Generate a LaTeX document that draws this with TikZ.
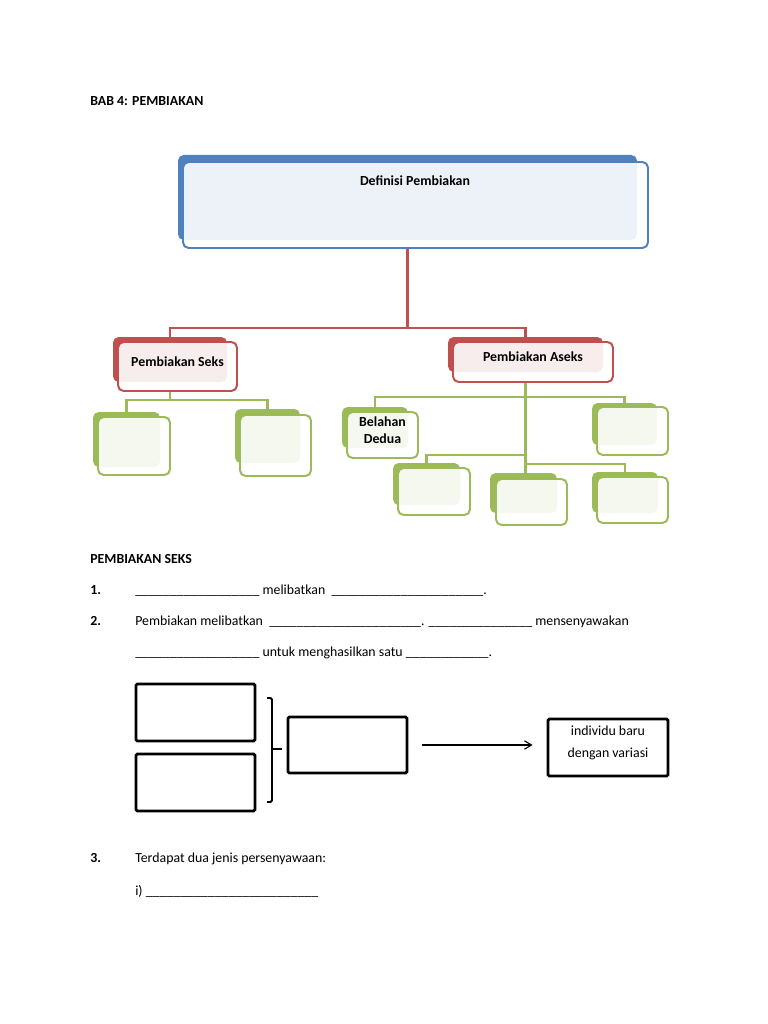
\documentclass[tikz,border=0pt]{standalone}
\usepackage{fontspec}
\setmainfont{Carlito}
\usepackage{tikz}
\usetikzlibrary{arrows.meta, positioning, fit, backgrounds, calc}

\definecolor{accblue}{HTML}{4F81BD}
\definecolor{accred}{HTML}{C0504D}
\definecolor{accgreen}{HTML}{9BBB59}

\newcommand{\ukuran}{\fontsize{9.85pt}{11.8pt}\selectfont}
\newcommand{\garis}[1]{\foreach \nn in {1,...,#1}{\_}}

\tikzset{
  backbox/.style={fill=#1, rounded corners=4pt, inner sep=0pt},
  frontbox/.style={draw=#1, line width=1.4pt, fill=white, fill opacity=0.9, text opacity=1,
                   rounded corners=4pt, inner sep=0pt, align=center, font=\ukuran\bfseries},
  redline/.style={draw=accred, line width=1.5pt},
  greenline/.style={draw=accgreen, line width=1.8pt},
  textline/.style={anchor=base west, inner sep=0pt},
  boldline/.style={textline, font=\ukuran\bfseries},
  plainbox/.style={draw, line width=2pt, rounded corners=1pt, inner sep=0pt, align=center},
  arrowline/.style={-{Straight Barb[length=5pt, width=6pt]}, line width=0.8pt}
}

\begin{document}
\begin{tikzpicture}[x=0.025cm, y=-0.025cm, font=\ukuran]

\useasboundingbox (0,0) rectangle (768,1024);

% Tajuk
\node [boldline] (tajuk) at (90,106) {BAB 4: PEMBIAKAN};

% Definisi
\node [backbox=accblue, fit={(178,155) (637,240)}] (defbg) {};
\node [frontbox=accblue, fit={(183,162) (648,248)}] (def) {};
\node [font=\ukuran\bfseries, inner sep=0pt, anchor=base] (deftitle) at (415,186) {Definisi Pembiakan};

% Pembiakan Seks / Aseks
\node [backbox=accred, fit={(113,337) (227,382)}] (seksbg) {};
\node [frontbox=accred, fit={(118,342) (237,391)}] (seks) {Pembiakan Seks};
\node [backbox=accred, fit={(448,337) (603,372)}] (aseksbg) {};
\node [frontbox=accred, fit={(453,342) (613,382)}] (aseks) {Pembiakan Aseks};

% Cabang seks
\node [backbox=accgreen, fit={(93,412) (160,467)}] (seks1bg) {};
\node [frontbox=accgreen, fit={(98,417) (170,475)}] (seks1) {};
\node [backbox=accgreen, fit={(235,409) (300,463)}] (seks2bg) {};
\node [frontbox=accgreen, fit={(240,415) (311,476)}] (seks2) {};

% Cabang aseks
\node [backbox=accgreen, fit={(342,407) (408,448)}] (belahanbg) {};
\node [frontbox=accgreen, fit={(347,412) (418,458)}] (belahan) {Belahan\\Dedua};
\node [backbox=accgreen, fit={(592,403) (657,445)}] (aseks2bg) {};
\node [frontbox=accgreen, fit={(597,407) (668,455)}] (aseks2) {};
\node [backbox=accgreen, fit={(393,463) (460,505)}] (aseks3bg) {};
\node [frontbox=accgreen, fit={(398,468) (470,515)}] (aseks3) {};
\node [backbox=accgreen, fit={(490,473) (557,513)}] (aseks4bg) {};
\node [frontbox=accgreen, fit={(496,479) (567,525)}] (aseks4) {};
\node [backbox=accgreen, fit={(592,472) (658,513)}] (aseks5bg) {};
\node [frontbox=accgreen, fit={(597,477) (668,523)}] (aseks5) {};

% Connectors
\coordinate (redbar) at (0,328);
\coordinate (seksbar) at (0,400);
\coordinate (barA) at (0,397);
\coordinate (barB) at (0,455);
\coordinate (barC) at (0,464);

\begin{scope}[on background layer]
\fill [white] (0,0) rectangle (768,1024);

\draw [redline] (defbg.south |- def.south) -- (defbg.south |- redbar) -| (seksbg.north);
\draw [redline] (defbg.south |- redbar) -| (aseksbg.north);

\draw [greenline] (seksbg.south |- seks.south) -- (seksbg.south |- seksbar) -| (seks1bg.north);
\draw [greenline] (seksbg.south |- seksbar) -| (seks2bg.north);

\draw [greenline] (aseksbg.south |- aseks.south) -- (aseksbg.south |- aseks4bg.north);
\draw [greenline] (aseksbg.south |- barA) -| (belahanbg.north);
\draw [greenline] (aseksbg.south |- barA) -| (aseks2bg.north);
\draw [greenline] (aseksbg.south |- barB) -| (aseks3bg.north);
\draw [greenline] (aseksbg.south |- barC) -| (aseks5bg.north);
\end{scope}

% Soalan
\node [boldline] (sekshead) at (90,563) {PEMBIAKAN SEKS};
\node [boldline] (no1) at (90,594) {1.};
\node [textline] (s1) at (135,594) {\garis{18} melibatkan\ \ \garis{22}.};
\node [boldline] (no2) at (90,625) {2.};
\node [textline] (s2) at (135,625) {Pembiakan melibatkan\ \ \garis{22}. \garis{15} mensenyawakan};
\node [textline] (s3) at (135,656) {\garis{18} untuk menghasilkan satu \garis{12}.};

% Persenyawaan
\node [plainbox, fit={(136,684) (255,741)}] (gamet1) {};
\node [plainbox, fit={(136,754) (255,811)}] (gamet2) {};
\node [plainbox, fit={(288,717) (407,773)}] (zigot) {};
\node [plainbox, fit={(548,719) (668,776)}] (baru) {individu baru\\[4pt]dengan variasi};

\draw [line width=1.4pt, rounded corners=1pt] (267,698) -- (272,698) -- (272,802) -- (267,802);
\draw [line width=1.4pt] (272,749) -- (282,749);
\draw [arrowline, shorten <=9.5pt, shorten >=10pt] (zigot) -- (zigot -| baru.west);

\node [boldline] (no3) at (90,862) {3.};
\node [textline] (s4) at (135,862) {Terdapat dua jenis persenyawaan:};
\node [textline] (s5) at (135,895) {i) \garis{25}};

\end{tikzpicture}
\end{document}
